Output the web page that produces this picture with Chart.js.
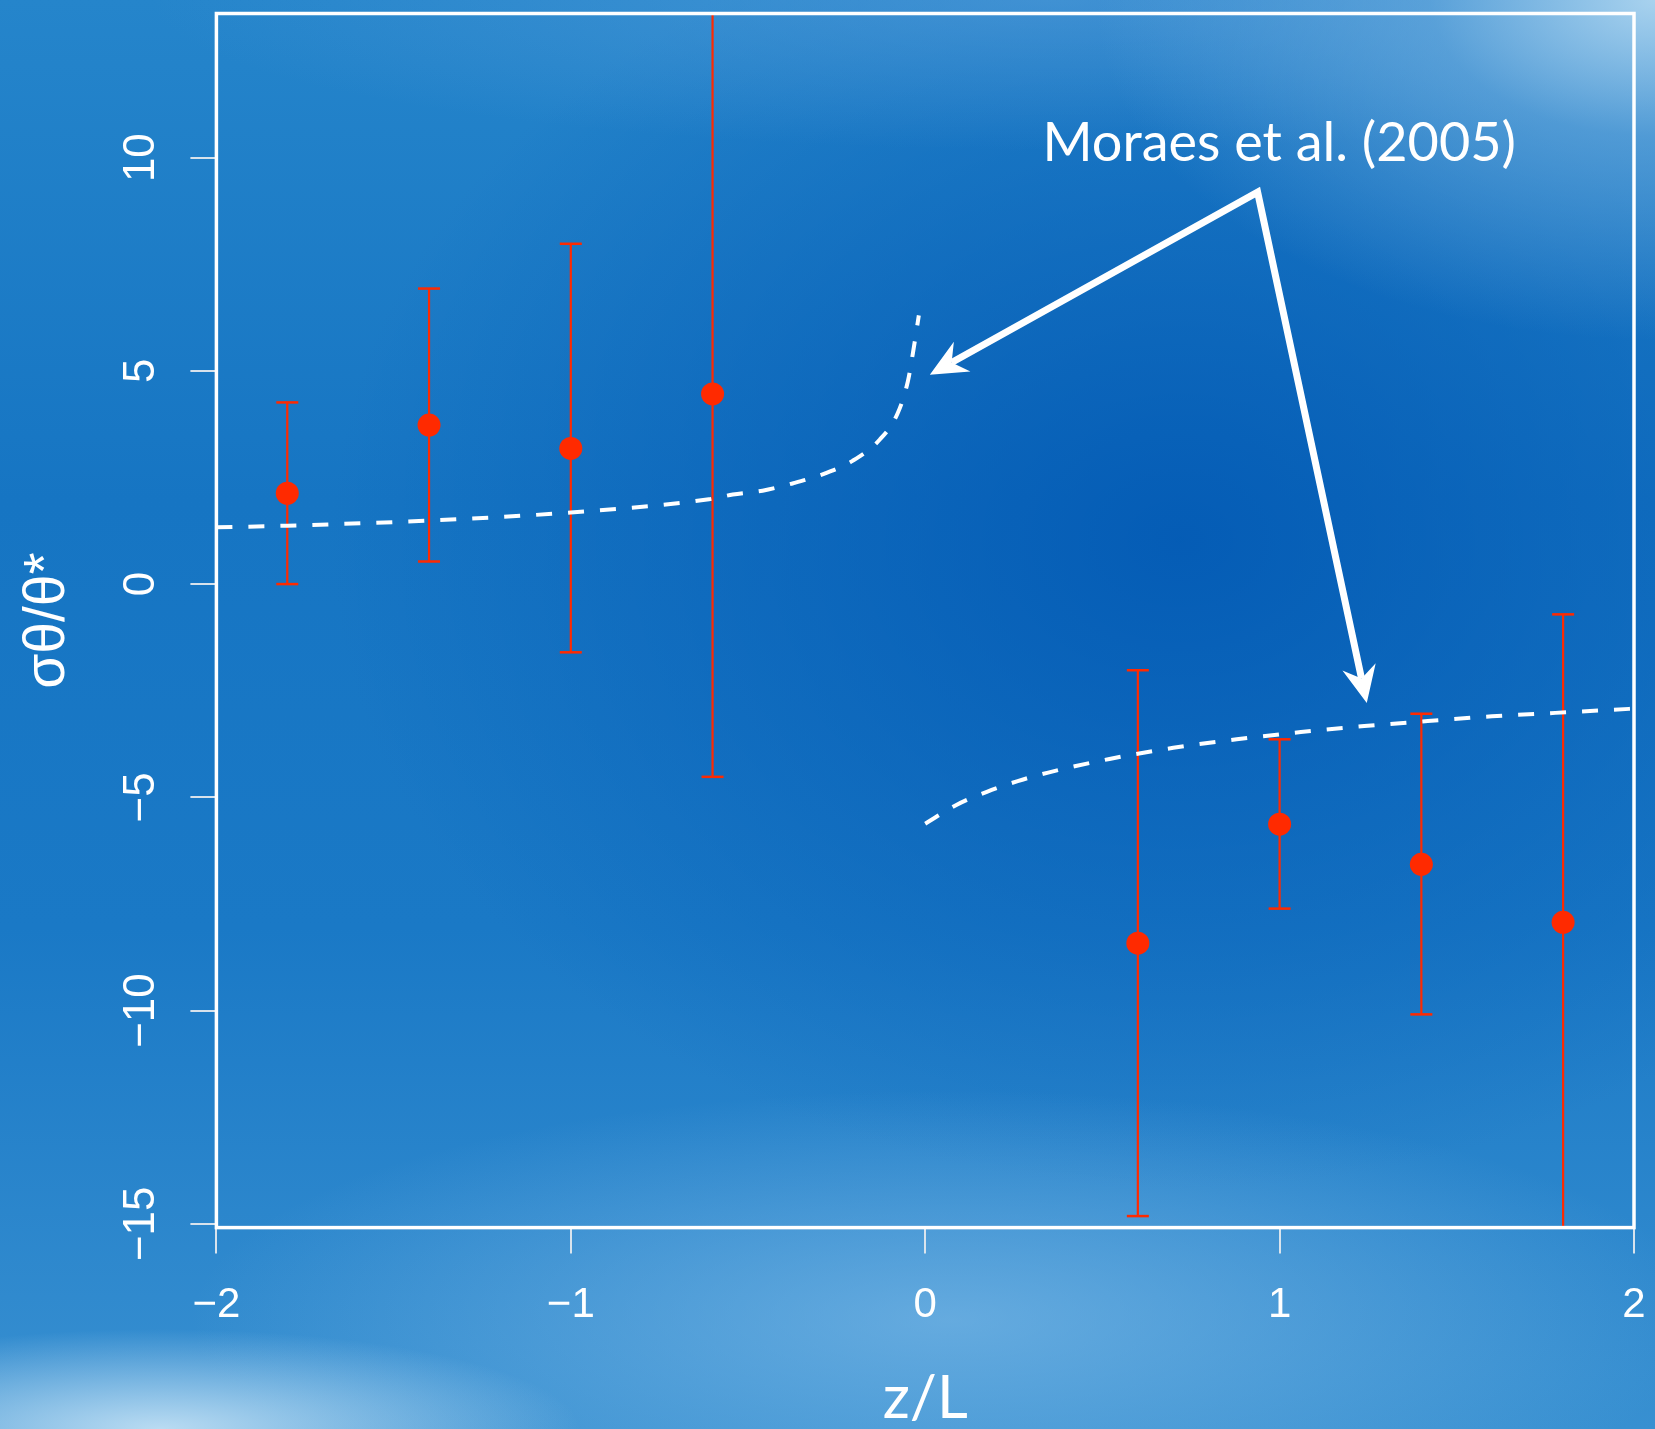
<!DOCTYPE html>
<html>
<head>
<meta charset="utf-8">
<script src="https://cdn.jsdelivr.net/npm/chart.js@4.4.1/dist/chart.umd.min.js"></script>
<style>
  html, body { margin: 0; padding: 0; }
  body { width: 1655px; height: 1429px; overflow: hidden; }
  #wrap {
    position: relative; width: 1655px; height: 1429px;
    background:
      radial-gradient(ellipse 560px 340px at 1655px 0px, rgba(175,214,240,0.95) 0%, rgba(115,176,224,0.6) 40%, rgba(60,140,210,0) 100%),
      radial-gradient(ellipse 900px 150px at 1050px 0px, rgba(90,160,220,0.55) 0%, rgba(90,160,220,0) 100%),
      radial-gradient(ellipse 420px 100px at 160px 1429px, rgba(200,228,246,0.9) 0%, rgba(200,228,246,0) 100%),
      radial-gradient(ellipse 760px 230px at 950px 1320px, rgba(135,192,234,0.6) 0%, rgba(135,192,234,0) 100%),
      radial-gradient(ellipse 850px 650px at 1180px 540px, rgba(0,86,178,0.8) 0%, rgba(0,86,178,0) 100%),
      linear-gradient(180deg, #2585cb 0%, #1675c3 35%, #1a79c6 65%, #3890d1 100%);
  }
  canvas { display: block; position: absolute; left: 0; top: 0; }
</style>
</head>
<body>
<div id="wrap"><canvas id="c" width="1655" height="1429"></canvas></div>
<script>
// Measured sigma_theta / theta* binned by stability parameter z/L
const zOverL     = [-1.8, -1.4, -1.0, -0.6, 0.6, 1.0, 1.4, 1.8];
const sigmaTheta = [2.13, 3.73, 3.18, 4.46, -8.42, -5.63, -6.57, -7.93];
const errLow     = [0.0, 0.53, -1.60, -4.52, -14.82, -7.61, -10.09, -15.09];
const errHigh    = [4.26, 6.93, 7.98, 13.38, -2.02, -3.64, -3.04, -0.71];

// Moraes et al. (2005) similarity curves
const unstableZ   = [-2.0, -1.8, -1.4, -1.0, -0.61, -0.543, -0.459, -0.374, -0.284, -0.205, -0.128, -0.078, -0.049, -0.035, -0.018];
const unstableFit = [1.33, 1.37, 1.49, 1.68, 1.99, 2.10, 2.19, 2.36, 2.59, 2.89, 3.39, 4.00, 4.75, 5.40, 6.30];
const stableZ     = [0.0, 0.088, 0.174, 0.261, 0.347, 0.52, 0.70, 0.879, 1.06, 1.239, 1.418, 1.599, 1.778, 2.0];
const stableFit   = [-5.62, -5.18, -4.87, -4.62, -4.42, -4.10, -3.84, -3.64, -3.47, -3.33, -3.21, -3.10, -3.02, -2.92];

const xTicks = [-2, -1, 0, 1, 2];
const yTicks = [-15, -10, -5, 0, 5, 10];
const xRange = [-2, 2];
const yRange = [-15.09, 13.38];

// Callout: label and arrows, anchored in data units
const calloutText  = 'Moraes et al. (2005)';
const calloutLabel = [0.331, 9.91];
const calloutFrom  = [0.938, 9.19];
const calloutTips  = [[0.013, 4.91], [1.246, -2.79]];

const RED = '#ff2a00';
const WHITE = '#ffffff';
const TICK = 'rgba(226,232,238,0.95)';
const minus = v => String(v).replace('-', '\u2212');

// keep the plot box fixed: no extra room for overhanging tick labels
const fixBox = (s, w, h) => {
  if (w !== null) s.width = w;
  if (h !== null) s.height = h;
  s.paddingTop = 0; s.paddingBottom = 0; s.paddingLeft = 0; s.paddingRight = 0;
};

const datasets = [];
datasets.push({
  type: 'line', label: 'unstable', order: 0,
  data: unstableZ.map((x, i) => ({x, y: unstableFit[i]})),
  borderColor: WHITE, borderWidth: 4, borderDash: [16, 16],
  pointRadius: 0, cubicInterpolationMode: 'monotone', fill: false
});
datasets.push({
  type: 'line', label: 'stable', order: 0,
  data: stableZ.map((x, i) => ({x, y: stableFit[i]})),
  borderColor: WHITE, borderWidth: 4, borderDash: [16, 16],
  pointRadius: 0, cubicInterpolationMode: 'monotone', fill: false
});
datasets.push({
  type: 'scatter', label: 'obs', order: 1,
  data: zOverL.map((x, i) => ({x, y: sigmaTheta[i]})),
  backgroundColor: RED, borderWidth: 0, pointRadius: 11.5
});
zOverL.forEach((x, i) => {
  datasets.push({
    type: 'line', label: 'err' + i, order: 2, clip: false,
    data: [{x, y: errLow[i]}, {x, y: errHigh[i]}],
    borderColor: RED, borderWidth: 2.2,
    pointStyle: 'line', pointRadius: 11, pointBorderColor: RED, pointBorderWidth: 2.5,
    fill: false
  });
});

const framePlugin = {
  id: 'frame',
  afterDatasetsDraw(chart) {
    const {ctx, chartArea: a} = chart;
    ctx.save();
    ctx.strokeStyle = WHITE;
    ctx.lineWidth = 3.5;
    ctx.strokeRect(a.left, a.top, a.right - a.left, a.bottom - a.top);
    ctx.restore();
  }
};

const calloutPlugin = {
  id: 'callout',
  afterDraw(chart) {
    const {ctx} = chart;
    const sx = chart.scales.x, sy = chart.scales.y;
    const px = p => [sx.getPixelForValue(p[0]), sy.getPixelForValue(p[1])];
    ctx.save();
    ctx.fillStyle = WHITE;
    ctx.font = '54px Lato';
    ctx.textBaseline = 'alphabetic';
    ctx.textAlign = 'left';
    const lp = px(calloutLabel);
    ctx.fillText(calloutText, lp[0], lp[1]);

    const v = px(calloutFrom);
    const headLen = 37, headHalf = 17, notch = 25;
    const ends = [], heads = [];
    calloutTips.forEach(t => {
      const tp = px(t);
      const dx = tp[0] - v[0], dy = tp[1] - v[1];
      const len = Math.hypot(dx, dy);
      const ux = dx / len, uy = dy / len, nx = -uy, ny = ux;
      ends.push([tp[0] - ux * notch, tp[1] - uy * notch]);
      heads.push([
        tp,
        [tp[0] - ux * headLen + nx * headHalf, tp[1] - uy * headLen + ny * headHalf],
        [tp[0] - ux * notch, tp[1] - uy * notch],
        [tp[0] - ux * headLen - nx * headHalf, tp[1] - uy * headLen - ny * headHalf]
      ]);
    });
    ctx.strokeStyle = WHITE;
    ctx.lineWidth = 7;
    ctx.lineJoin = 'miter';
    ctx.lineCap = 'butt';
    ctx.beginPath();
    ctx.moveTo(ends[0][0], ends[0][1]);
    ctx.lineTo(v[0], v[1]);
    ctx.lineTo(ends[1][0], ends[1][1]);
    ctx.stroke();
    heads.forEach(h => {
      ctx.beginPath();
      ctx.moveTo(h[0][0], h[0][1]);
      for (let k = 1; k < h.length; k++) ctx.lineTo(h[k][0], h[k][1]);
      ctx.closePath();
      ctx.fill();
    });
    ctx.restore();
  }
};

new Chart(document.getElementById('c'), {
  type: 'scatter',
  data: {datasets},
  options: {
    responsive: false,
    animation: false,
    devicePixelRatio: 1,
    layout: {padding: {top: 10.5, right: 21, left: 0, bottom: 0}},
    plugins: {legend: {display: false}, tooltip: {enabled: false}},
    elements: {line: {tension: 0}},
    scales: {
      x: {
        type: 'linear', position: 'bottom', min: xRange[0], max: xRange[1],
        afterFit: s => fixBox(s, null, 201.4),
        afterBuildTicks: s => { s.ticks = xTicks.map(v => ({value: v})); },
        grid: {display: true, drawOnChartArea: false, drawTicks: true, tickLength: 26, color: TICK, lineWidth: 2},
        border: {display: false},
        ticks: {
          color: WHITE, autoSkip: false, maxRotation: 0, minRotation: 0, padding: 31,
          font: {family: 'Liberation Sans', size: 42, lineHeight: 1},
          callback: v => minus(v)
        },
        title: {
          display: true, text: 'z/L', color: WHITE,
          font: {family: 'Lato', size: 60, lineHeight: 1},
          padding: {top: 0, bottom: 0}
        }
      },
      y: {
        type: 'linear', position: 'left', min: yRange[0], max: yRange[1],
        afterFit: s => fixBox(s, 216.4, null),
        afterBuildTicks: s => { s.ticks = yTicks.map(v => ({value: v})); },
        grid: {display: true, drawOnChartArea: false, drawTicks: true, tickLength: 26, color: TICK, lineWidth: 2},
        border: {display: false},
        ticks: {
          color: WHITE, autoSkip: false, minRotation: 90, maxRotation: 90, crossAlign: 'center', padding: 11,
          font: {family: 'Liberation Sans', size: 44, lineHeight: 1},
          callback: v => minus(v)
        },
        title: {
          display: true, text: '\u03C3\u03B8/\u03B8*', color: WHITE,
          font: {family: 'Liberation Sans', size: 57, lineHeight: 1},
          padding: {top: 19.5, bottom: 0}
        }
      }
    }
  },
  plugins: [framePlugin, calloutPlugin]
});
</script>
</body>
</html>
